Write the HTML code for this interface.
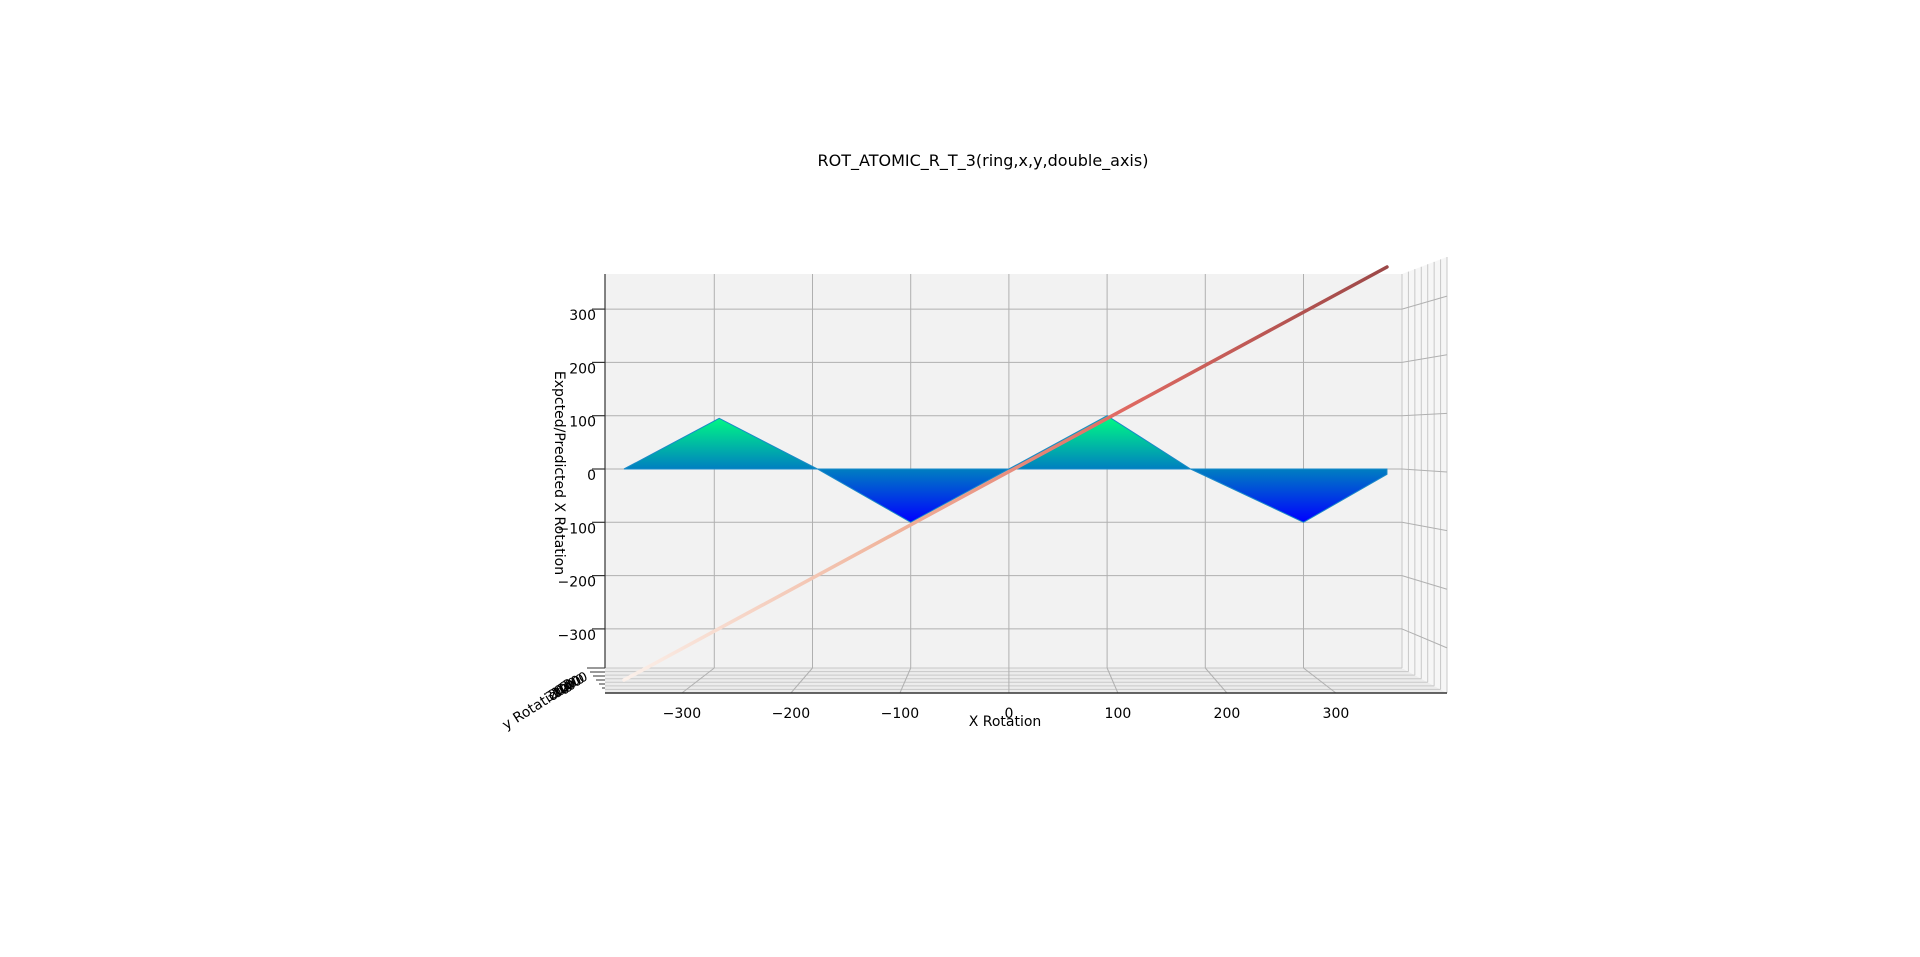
<!DOCTYPE html>
<html><head><meta charset="utf-8"><style>
html,body{margin:0;padding:0;background:#fff;width:1920px;height:957px;overflow:hidden}
svg{font-family:"DejaVu Sans","Liberation Sans",sans-serif}
</style></head><body>
<svg id="chart" width="1920" height="957" viewBox="0 0 1920 957" xmlns="http://www.w3.org/2000/svg">
<defs>
<linearGradient id="surfGrad" gradientUnits="userSpaceOnUse" x1="0" y1="415" x2="0" y2="522">
<stop offset="0" stop-color="#00ff80"/>
<stop offset="0.25" stop-color="#00c0a0"/>
<stop offset="0.5" stop-color="#0080c0"/>
<stop offset="0.75" stop-color="#0040e0"/>
<stop offset="1" stop-color="#0000ff"/>
</linearGradient>
<linearGradient id="lineGrad" gradientUnits="userSpaceOnUse" x1="625" y1="680" x2="1387" y2="267">
<stop offset="0" stop-color="#fbf0ea"/>
<stop offset="0.35" stop-color="#f0b49c"/>
<stop offset="0.65" stop-color="#e06a62"/>
<stop offset="1" stop-color="#9c4848"/>
</linearGradient>
</defs>
<text x="983" y="166" font-size="16" text-anchor="middle">ROT_ATOMIC_R_T_3(ring,x,y,double_axis)</text>
<g id="axes"></g>
<g id="marks"></g>
</svg>
<script>
const xTicks=[-300,-200,-100,0,100,200,300];
const zTicks=[300,200,100,0,-100,-200,-300];
const surfX=[-392,-295,-195,-100,0,100,185,300,385];
const surfZ=[0,95,0,-100,0,100,0,-100,-10];
const lineX=[-392,385];
const lineZ=[-396,379];

const NS="http://www.w3.org/2000/svg";
const X0=1008.9,XS=0.982,Z0=469,ZS=0.533;
const L=605,R=1402,T=274,B=668,FB=693,FR=1447;
function px(x){return X0+x*XS;}
function pz(z){return Z0-z*ZS;}
function el(tag,attrs,parent){const e=document.createElementNS(NS,tag);for(const k in attrs)e.setAttribute(k,attrs[k]);parent.appendChild(e);return e;}
const ax=document.getElementById('axes'),mk=document.getElementById('marks');

let p=el('polygon',{points:`${L},${T} ${R},${T} ${R},${B} ${L},${B}`,fill:'#f2f2f2'},ax);

p=el('polygon',{points:`${L},${B} ${R},${B} ${FR},${FB} ${L},${FB}`,fill:'#ececec'},ax);

p=el('polygon',{points:`${R},${T} ${FR},257 ${FR},${FB} ${R},${B}`,fill:'#f6f6f6'},ax);


for(let i=0;i<=7;i++){
  const t=i/7;
  const y=B+(FB-B)*t, x=R+(FR-R)*t;
  let l=el('line',{x1:L,y1:y,x2:x,y2:y,stroke:'#c8c8c8','stroke-width':1},ax);
  
  l=el('line',{x1:x,y1:T-(T-257)*t,x2:x,y2:y,stroke:'#c8c8c8','stroke-width':1},ax);
  
}
xTicks.forEach(v=>{
  const x=px(v),xf=X0+(x-X0)*1.11;
  let l=el('line',{x1:x,y1:T,x2:x,y2:B,stroke:'#b0b0b0','stroke-width':1},ax);
  
  l=el('line',{x1:x,y1:B,x2:xf,y2:FB,stroke:'#b0b0b0','stroke-width':1},ax);
  
  const t=el('text',{x:xf,y:718,'font-size':14,'text-anchor':'middle'},ax);
  t.textContent=v<0?'\u2212'+Math.abs(v):String(v);
  
});
zTicks.forEach(v=>{
  const y=pz(v),ys=472+(y-469)*1.1;
  let l=el('line',{x1:L,y1:y,x2:R,y2:y,stroke:'#b0b0b0','stroke-width':1},ax);
  
  l=el('line',{x1:R,y1:y,x2:FR,y2:ys,stroke:'#b0b0b0','stroke-width':1},ax);
  
  l=el('line',{x1:592,y1:y,x2:L,y2:y,stroke:'#333','stroke-width':1.2},ax);
  
  const t=el('text',{x:596,y:y+11,'font-size':14,'text-anchor':'end'},ax);
  t.textContent=v<0?'\u2212'+Math.abs(v):String(v);
  
});
let a=el('line',{x1:L,y1:T,x2:L,y2:B,stroke:'#333','stroke-width':1.2},ax);

a=el('line',{x1:L,y1:FB,x2:FR,y2:FB,stroke:'#333','stroke-width':1.5},ax);

for(let i=0;i<6;i++){
  a=el('line',{x1:L-18+i*3,y1:B+i*4,x2:L,y2:B+i*4,stroke:'#333','stroke-width':1},ax);
  
}
let t=el('text',{x:1005,y:726,'font-size':14,'text-anchor':'middle'},ax);
t.textContent='X Rotation';
t=el('text',{x:555,y:473,'font-size':14,'text-anchor':'middle',transform:'rotate(90 555 473)'},ax);
t.textContent='Expcted/Predicted X Rotation';
t=el('text',{x:506,y:730,'font-size':14,transform:'rotate(-32 506 730)'},ax);
t.textContent='y Rotation';
['300','200','100','0','100','200','300'].forEach((s,i)=>{
  const tt=el('text',{x:548+i*3,y:702-i*2,'font-size':13,transform:`rotate(-25 ${548+i*3} ${702-i*2})`},ax);
  tt.textContent=s;
  
});

let pts=[];
surfX.forEach((x,i)=>pts.push(px(x)+','+pz(surfZ[i])));
pts.push(px(surfX[surfX.length-1])+','+pz(0));
const surf=el('polygon',{points:pts.join(' '),fill:'url(#surfGrad)',stroke:'#1a8ac8','stroke-width':1},mk);


const ln=el('line',{x1:px(lineX[0]),y1:pz(lineZ[0]),x2:px(lineX[1]),y2:pz(lineZ[1]),stroke:'url(#lineGrad)','stroke-width':3.5,'stroke-linecap':'round'},mk);


</script>
</body></html>
